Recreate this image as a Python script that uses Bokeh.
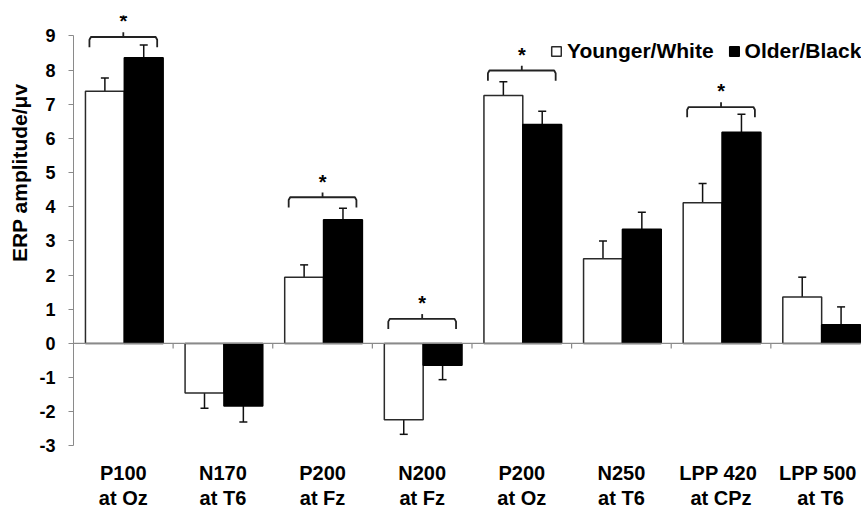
from bokeh.plotting import figure
from bokeh.models import (ColumnDataSource, Range1d, FixedTicker, Whisker, TeeHead,
                          Legend, LegendItem, Span, LinearAxis, Title)
from bokeh.core.properties import value
from bokeh.embed import file_html
from bokeh.resources import INLINE

# ---- data ----
cat_line1 = ["P100", "N170", "P200", "N200", "P200", "N250", "LPP  420", "LPP  500"]
cat_line2 = ["at Oz", "at T6", "at Fz", "at Fz", "at Oz", "at T6", "at CPz", "at T6"]
younger_white = [7.38, -1.45, 1.94, -2.23, 7.26, 2.48, 4.12, 1.36]
younger_se = [0.39, 0.45, 0.36, 0.43, 0.40, 0.52, 0.56, 0.58]
older_black = [8.36, -1.83, 3.62, -0.64, 6.41, 3.34, 6.18, 0.55]
older_se = [0.38, 0.47, 0.34, 0.42, 0.39, 0.50, 0.53, 0.52]
sig_groups = [0, 2, 3, 4, 6]
sig_bracket_y = [8.97, 4.28, 0.72, 7.99, 6.92]
y_ticks = [-3, -2, -1, 0, 1, 2, 3, 4, 5, 6, 7, 8, 9]
y_title = "ERP amplitude/μv"

FONT = "Liberation Sans"
n = len(cat_line1)
idx = list(range(n))

p = figure(width=861, height=510, output_backend="svg", toolbar_location=None,
           x_range=Range1d(0, 7.91), y_range=Range1d(-4.89, 9.6),
           min_border_left=73, min_border_right=0, min_border_top=15,
           min_border_bottom=0, y_axis_location=None, x_axis_location=None)
p.outline_line_color = None
p.grid.visible = False
p.background_fill_color = "white"
p.border_fill_color = "white"

# y axis (ticks)
yax = LinearAxis(bounds=(-3, 9), ticker=FixedTicker(ticks=y_ticks))
yax.major_label_overrides = {t: str(t) for t in y_ticks}
yax.major_label_text_font = FONT
yax.major_label_text_font_style = "bold"
yax.major_label_text_font_size = "18px"
yax.major_label_text_color = "black"
yax.major_label_standoff = 13
yax.axis_line_color = "#8a8a8a"
yax.major_tick_line_color = "#8a8a8a"
yax.major_tick_out = 5
yax.major_tick_in = 0
yax.minor_tick_line_color = None
p.add_layout(yax, "left")

# y axis title
p.add_layout(Title(text=y_title, align="right", offset=68, standoff=11,
                   text_font=FONT, text_font_style="bold", text_font_size="21px",
                   text_color="black"), "left")

# category labels
lx = [i + 0.5 for i in idx]
for txt, yy in ((cat_line1, -3.80), (cat_line2, -4.51)):
    p.text(x=lx, y=[yy] * n, text=txt, text_font=value(FONT), text_font_style="bold",
           text_font_size="20px", text_align="center", text_baseline="middle",
           text_color="black")

# zero line and category tick marks
p.add_layout(Span(location=0, dimension="width", line_color="#8a8a8a", line_width=1.2))
bounds = [i for i in range(1, n)]
p.segment(x0=bounds, x1=bounds, y0=[0] * len(bounds), y1=[-0.15] * len(bounds),
          line_color="#8a8a8a", line_width=1.2)

# bars
xw = [i + 0.315 for i in idx]
xb = [i + 0.705 for i in idx]
src_w = ColumnDataSource(dict(x=xw, top=younger_white,
                              lo=[v - s for v, s in zip(younger_white, younger_se)],
                              hi=[v + s for v, s in zip(younger_white, younger_se)]))
src_b = ColumnDataSource(dict(x=xb, top=older_black,
                              lo=[v - s for v, s in zip(older_black, older_se)],
                              hi=[v + s for v, s in zip(older_black, older_se)]))
rw = p.vbar(x="x", top="top", bottom=0, width=0.39, source=src_w,
            fill_color="white", line_color="#2a2a2a", line_width=1.5)
rb = p.vbar(x="x", top="top", bottom=0, width=0.39, source=src_b,
            fill_color="black", line_color="black", line_width=1.5)

for src in (src_w, src_b):
    p.add_layout(Whisker(base="x", lower="lo", upper="hi", source=src,
                         dimension="height", line_color="#111111", line_width=1.5,
                         upper_head=TeeHead(size=8, line_color="#111111", line_width=1.5),
                         lower_head=TeeHead(size=8, line_color="#111111", line_width=1.5)))

# significance brackets
xs, ys = [], []
mx, my0, my1 = [], [], []
for g, y in zip(sig_groups, sig_bracket_y):
    c = g + 0.5
    x0, x1 = c - 0.34, c + 0.34
    xs.append([x0, x0, x0 + 0.015, x1 - 0.015, x1, x1])
    ys.append([y - 0.3, y - 0.08, y, y, y - 0.08, y - 0.3])
    mx.append(c)
    my0.append(y)
    my1.append(y + 0.14)
p.multi_line(xs=xs, ys=ys, line_color="#222222", line_width=1.8)
p.segment(x0=mx, x1=mx, y0=my0, y1=my1, line_color="#222222", line_width=1.8)
p.text(x=mx, y=[v + 0.32 for v in my1], text=["*"] * len(mx),
       text_font=value(FONT), text_font_style="bold", text_font_size="20px",
       text_align="center", text_baseline="middle", text_color="black")

legend = Legend(items=[LegendItem(label="Younger/White", renderers=[rw]),
                       LegendItem(label="Older/Black", renderers=[rb])],
                orientation="horizontal", location=(477, 447),
                glyph_width=12, glyph_height=12, label_standoff=5, spacing=14,
                padding=0, margin=0, background_fill_alpha=0,
                border_line_color=None,
                label_text_font=FONT, label_text_font_style="bold",
                label_text_font_size="21px", label_text_color="black")
p.add_layout(legend, "center")

open("out.html", "w").write(file_html(p, INLINE))
